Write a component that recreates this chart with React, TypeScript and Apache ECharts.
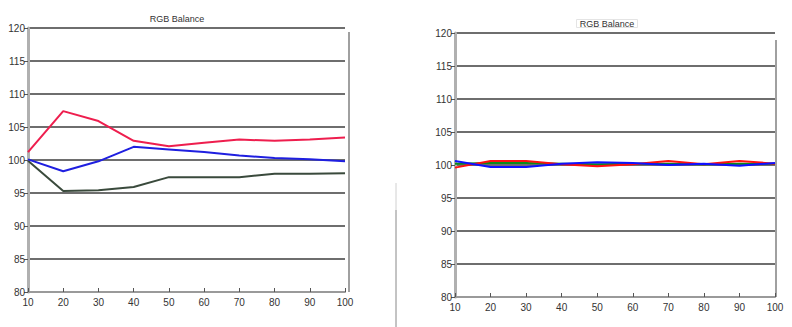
import React, { useEffect, useRef } from "react";
import * as echarts from "echarts";

const xValues = [10, 20, 30, 40, 50, 60, 70, 80, 90, 100];
const leftRed = [101.2, 107.4, 105.9, 102.9, 102.1, 102.6, 103.1, 102.9, 103.1, 103.4];
const leftGreen = [99.9, 95.3, 95.4, 95.9, 97.4, 97.4, 97.4, 97.9, 97.9, 98.0];
const leftBlue = [100.1, 98.3, 99.8, 102.0, 101.6, 101.2, 100.7, 100.3, 100.1, 99.8];
const rightRed = [99.6, 100.6, 100.6, 100.1, 99.8, 100.1, 100.6, 100.1, 100.6, 100.2];
const rightGreen = [100.2, 100.3, 100.3, 100.2, 100.1, 100.2, 100.2, 100.1, 100.2, 100.2];
const rightBlue = [100.6, 99.7, 99.7, 100.2, 100.4, 100.3, 100.0, 100.2, 99.9, 100.3];
const chartTitle = "RGB Balance";

export default function App() {
  const ref = useRef<HTMLDivElement>(null);
  useEffect(() => {
    document.body.style.margin = "0";
    const chart = echarts.init(ref.current!, undefined, { renderer: "svg" });
    const pair = (ys: number[]) => xValues.map((x, i) => [x, ys[i]]);
    const font = "Liberation Sans, Arial, sans-serif";
    const mkX = (gi: number) => ({
      type: "value" as const,
      gridIndex: gi,
      min: 10,
      max: 100,
      interval: 10,
      axisLine: { show: true, lineStyle: { color: "#9a9a9a", width: 2 } },
      axisTick: { show: true, inside: true, length: 4, lineStyle: { color: "#555" } },
      axisLabel: { color: "#333", fontSize: 10, fontFamily: font, margin: 5 },
      splitLine: { show: false },
    });
    const mkY = (gi: number) => ({
      type: "value" as const,
      gridIndex: gi,
      min: 80,
      max: 120,
      interval: 5,
      axisLine: { show: true, lineStyle: { color: "#b0b0b0", width: 3 } },
      axisTick: { show: true, length: 4, lineStyle: { color: "#555" } },
      axisLabel: { color: "#333", fontSize: 10, fontFamily: font, margin: 3 },
      splitLine: { show: true, lineStyle: { color: "#6e6e6e", width: 2 } },
    });
    const line = (gi: number, ys: number[], color: string) => ({
      type: "line" as const,
      xAxisIndex: gi,
      yAxisIndex: gi,
      data: pair(ys),
      symbol: "none",
      lineStyle: { color, width: 2 },
    });
    chart.setOption({
      animation: false,
      backgroundColor: "#ffffff",
      title: [
        {
          text: chartTitle,
          left: 177,
          top: 14,
          textAlign: "center",
          textStyle: { fontSize: 9, fontWeight: "normal", color: "#333", fontFamily: font },
          padding: 0,
        },
        {
          text: chartTitle,
          left: 604,
          top: 19,
          textAlign: "center",
          textStyle: { fontSize: 9, fontWeight: "normal", color: "#333", fontFamily: font },
          padding: [0, 3],
          borderColor: "#e4e4e4",
          borderWidth: 1,
        },
      ],
      grid: [
        { left: 28, top: 28, width: 317, height: 264 },
        { left: 455, top: 33, width: 320, height: 264 },
      ],
      xAxis: [mkX(0), mkX(1)],
      yAxis: [mkY(0), mkY(1)],
      series: [
        line(0, leftGreen, "#3a4a3c"),
        line(0, leftBlue, "#1f1fe0"),
        line(0, leftRed, "#ee1e4e"),
        line(1, rightGreen, "#0a8a1a"),
        line(1, rightRed, "#ff1010"),
        line(1, rightBlue, "#1010ff"),
      ],
      graphic: [
        { type: "line", shape: { x1: 349, y1: 32, x2: 349, y2: 292 }, style: { stroke: "#a0a0a0", lineWidth: 2 } },
        { type: "line", shape: { x1: 776, y1: 40, x2: 776, y2: 297 }, style: { stroke: "#a0a0a0", lineWidth: 2 } },
        { type: "line", shape: { x1: 396, y1: 183, x2: 396, y2: 210 }, style: { stroke: "#d0d0d0", lineWidth: 1 } },
        { type: "line", shape: { x1: 396, y1: 210, x2: 396, y2: 327 }, style: { stroke: "#888888", lineWidth: 1 } },
      ],
    });
    return () => chart.dispose();
  }, []);
  return <div ref={ref} style={{ width: 792, height: 327 }} />;
}
